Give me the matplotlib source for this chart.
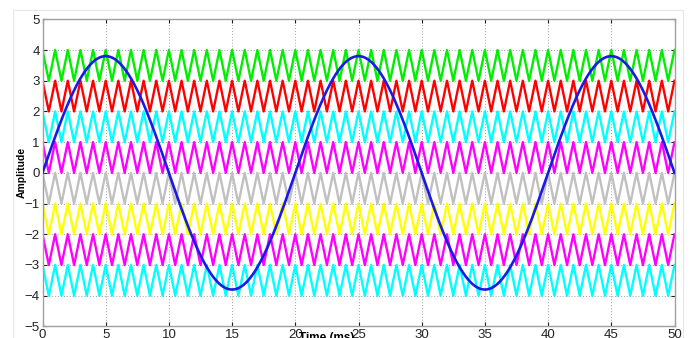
import numpy as np
import matplotlib
matplotlib.use("Agg")
import matplotlib.pyplot as plt
from matplotlib.patches import Rectangle

# Carrier bands (lower edge of each 1-unit band) and colours, top to bottom
band_lows = [3, 2, 1, 0, -1, -2, -3, -4]
band_colors = ["#00ee00", "#ff0000", "#00ffff", "#ff00ff", "#c0c0c0", "#ffff00", "#ff00ff", "#00ffff"]
carrier_period_ms = 1.0
t_end_ms = 50
# Reference sine
sine_amplitude = 3.8
sine_period_ms = 20.0

xticks = [0, 5, 10, 15, 20, 25, 30, 35, 40, 45, 50]
yticks = [-5, -4, -3, -2, -1, 0, 1, 2, 3, 4, 5]

plt.rcParams['font.family'] = ['Liberation Sans', 'DejaVu Sans']

fig = plt.figure(figsize=(6.92, 3.38), dpi=100)
fig.patches.append(Rectangle((13/692, -0.1), (683-13)/692, 1.1 - 10/338,
                             transform=fig.transFigure, fill=False,
                             edgecolor="#e6e6e6", linewidth=0.8))
ax = fig.add_axes([42.5/692, 1 - 326.4/338, (674.5-42.5)/692, (326.4-19.3)/338])

# Triangle carriers: peak at integer ms, trough at half ms
n_half = int(t_end_ms / carrier_period_ms * 2)
t_tri = np.arange(n_half + 1) * carrier_period_ms / 2
phase = (np.arange(n_half + 1) % 2)  # 0 at peak, 1 at trough
for low, col in zip(band_lows, band_colors):
    ax.plot(t_tri, low + 1 - phase, color=col, linewidth=1.7, zorder=2)

t = np.linspace(0, t_end_ms, 1001)
ax.plot(t, sine_amplitude * np.sin(2 * np.pi * t / sine_period_ms),
        color="#1a1ae6", linewidth=1.9, zorder=3)

ax.set_xlim(0, 50)
ax.set_ylim(-5, 5)
ax.set_xticks(xticks)
ax.set_yticks(yticks)
ax.grid(True, linestyle=(0, (1, 2)), color="#a0a0a0", linewidth=0.7)
ax.set_axisbelow(True)
ax.tick_params(direction='in', length=3, labelsize=9.5, colors="#222222", pad=2,
               top=True, right=True)
for s in ax.spines.values():
    s.set_color("#a0a0a0")
    s.set_linewidth(1.0)

fig.text(22/692, 1 - 172.9/338, "Amplitude", rotation=90, ha='center', va='center',
         fontsize=7.5, fontweight='bold')
fig.text(327/692, 1 - 332/338, "Time (ms)", ha='center', va='top',
         fontsize=8.5, fontweight='bold')

fig.savefig("out.png", dpi=100)
